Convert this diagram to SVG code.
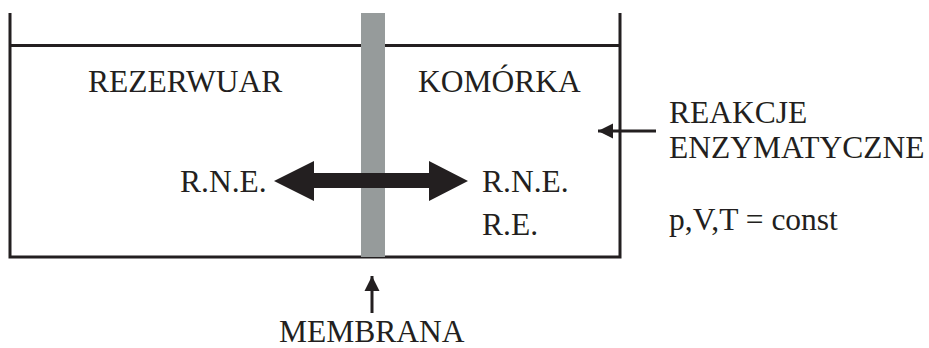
<svg xmlns="http://www.w3.org/2000/svg" width="929" height="348" viewBox="0 0 929 348">
<style>
.t{font-family:"Liberation Serif","Times New Roman",serif;font-size:31.5px;fill:#231f20}
.wall{stroke:#231f20;stroke-width:3;fill:none}
</style>
<defs>
<marker id="ah" markerWidth="6" markerHeight="6" refX="5" refY="3" orient="auto" markerUnits="strokeWidth">
<path d="M0,0.5 L5,3 L0,5.5 Z" fill="#231f20"/>
</marker>
</defs>
<rect width="929" height="348" fill="#fff"/>
<g id="container">
<polyline class="wall" points="10,13 10,257 620,257 620,13"/>
<line class="wall" x1="10" y1="45.5" x2="620" y2="45.5"/>
</g>
<g id="membrane">
<rect x="361" y="13" width="24" height="244" fill="#969b9b"/>
</g>
<g id="reservoir"><text class="t" x="88" y="92">REZERWUAR</text><text class="t" x="180" y="192">R.N.E.</text></g>
<g id="cell"><text class="t" x="418" y="92">KOMÓRKA</text><text class="t" x="482" y="192">R.N.E.</text><text class="t" x="482" y="235">R.E.</text></g>
<g id="reactions"><text class="t" x="669" y="123">REAKCJE</text><text class="t" x="669" y="158">ENZYMATYCZNE</text></g>
<g id="params"><text class="t" x="669" y="230">p,V,T = const</text></g>
<g id="membrane-label"><text class="t" x="279" y="342">MEMBRANA</text></g>
<g id="connectors">
<path d="M274,181 L314,161 L314,173 L429,173 L429,161 L468,181 L429,201 L429,188 L314,188 L314,201 Z" fill="#231f20"/>
<line x1="656" y1="131" x2="598" y2="131" stroke="#231f20" stroke-width="3" marker-end="url(#ah)"/>
<line x1="372" y1="313" x2="372" y2="276" stroke="#231f20" stroke-width="3" marker-end="url(#ah)"/>
</g>
</svg>
